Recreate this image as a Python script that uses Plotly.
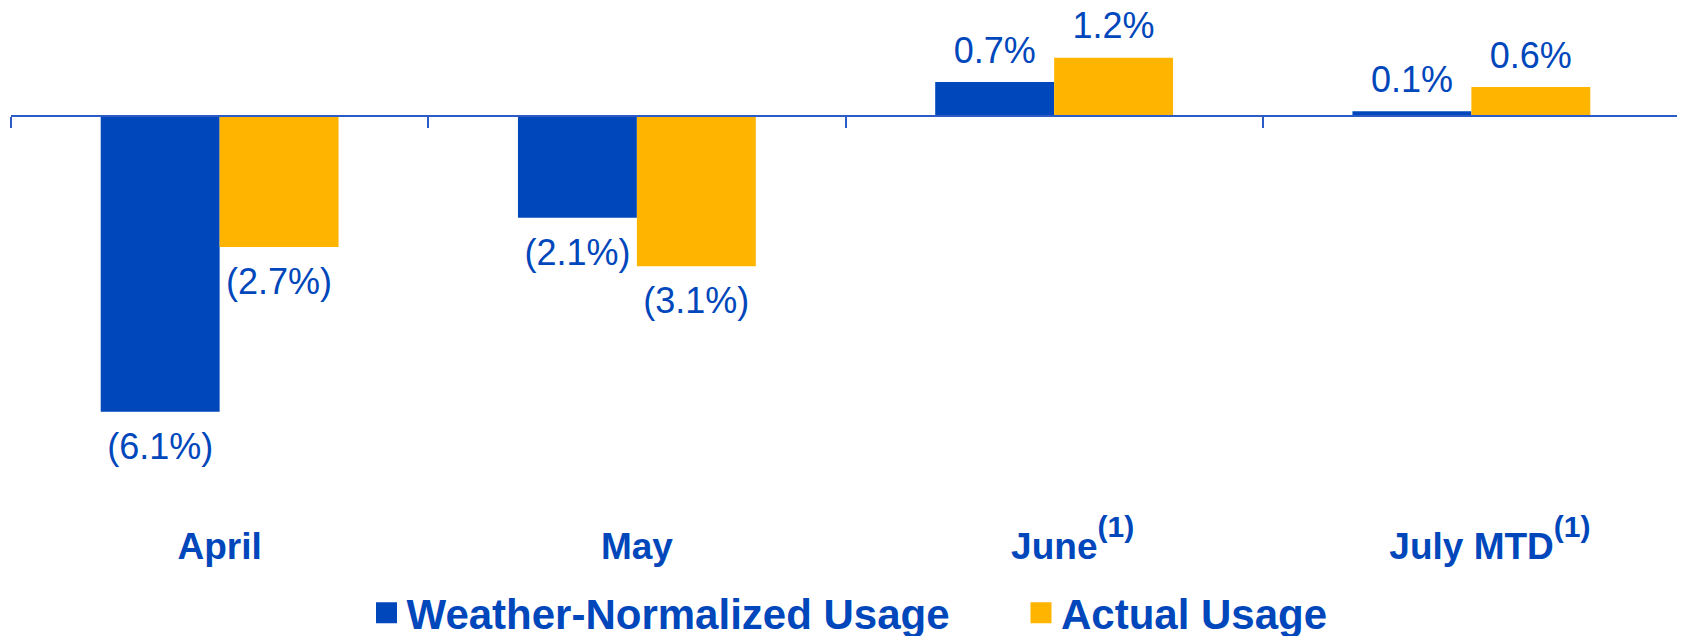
import plotly.graph_objects as go

# ---- data ----
categories = ["April", "May", "June", "July MTD"]
footnotes = ["", "", "(1)", "(1)"]
weather_normalized = [-6.1, -2.1, 0.7, 0.1]
actual_usage = [-2.7, -3.1, 1.2, 0.6]
series_names = ["Weather-Normalized Usage", "Actual Usage"]

# ---- style ----
BLUE = "#0047BB"
ORANGE = "#FFB500"
AXIS = "#2A5BC6"
FONT = "Liberation Sans, Arial, sans-serif"
GAP = 0.43
OFF = 8  # page body margin of the browser


def fmt(v):
    return f"({abs(v):.1f}%)" if v < 0 else f"{v:.1f}%"


def tick_label(cat, note):
    # keep the word itself centred under its group; footnote hangs to the right
    if not note:
        return cat
    return ("\u2002\u2002" + cat +
            f"<sup><span style='font-size:30px;baseline-shift:7px'>{note}</span></sup>")


fig = go.Figure()
series = [(series_names[0], weather_normalized, BLUE),
          (series_names[1], actual_usage, ORANGE)]
for name, vals, col in series:
    fig.add_trace(go.Bar(
        x=categories, y=vals, name=name,
        marker=dict(color=col, line=dict(width=0)),
        hoverinfo="skip", showlegend=False,
    ))
# value labels, grouped like the bars
for i, (name, vals, col) in enumerate(series):
    fig.add_trace(go.Scatter(
        x=categories, y=vals, mode="markers+text",
        text=[fmt(v) for v in vals],
        textposition=["bottom center" if v < 0 else "top center" for v in vals],
        textfont=dict(family=FONT, size=36, color=BLUE),
        marker=dict(size=[30 if v < 0 else 15 for v in vals], opacity=0),
        alignmentgroup="values", offsetgroup=f"s{i}",
        showlegend=False, hoverinfo="skip", cliponaxis=False,
    ))
# legend entries (square swatches)
for i, (name, vals, col) in enumerate(series):
    fig.add_trace(go.Scatter(
        x=[None], y=[None], mode="markers", name=name,
        marker=dict(symbol="square", size=16, color=col, line=dict(width=5, color=col)),
        alignmentgroup="legend", offsetgroup=f"l{i}",
        hoverinfo="skip",
    ))

W, H = 1685 - OFF, 636 - OFF
ml, mr, mt, mb = 3, 5, 2, 166
ph = H - mt - mb
plot_bottom = H - mb
yr = [-7.299, 2.186]
zero_pos = (0 - yr[0]) / (yr[1] - yr[0])

fig.update_layout(
    width=W, height=H,
    margin=dict(l=ml, r=mr, t=mt, b=mb, pad=0, autoexpand=False),
    plot_bgcolor="white", paper_bgcolor="white",
    barmode="group", bargap=GAP, bargroupgap=0,
    scattermode="group", scattergap=GAP,
    font=dict(family=FONT, color=BLUE),
    showlegend=True,
    legend=dict(
        orientation="h",
        x=(358.5 - ml) / (W - ml - mr), xanchor="left",
        y=-(605 - plot_bottom) / ph, yanchor="middle",
        font=dict(family=FONT, size=42, color=BLUE, weight="bold"),
        entrywidth=609.5, entrywidthmode="pixels",
        itemclick=False, itemdoubleclick=False,
        bgcolor="rgba(0,0,0,0)",
    ),
    xaxis=dict(
        type="category",
        categoryorder="array", categoryarray=categories,
        tickmode="array", tickvals=categories,
        ticktext=[tick_label(c, n) for c, n in zip(categories, footnotes)],
        anchor="free", position=zero_pos,
        showline=True, linecolor=AXIS, linewidth=2,
        ticks="outside", tickson="boundaries", ticklen=11, tickwidth=2, tickcolor=AXIS,
        showgrid=False, zeroline=False,
        tickfont=dict(family=FONT, size=37, color=BLUE, weight="bold"),
        ticklabelstandoff=398,
        automargin=False,
        fixedrange=True,
    ),
    yaxis=dict(
        range=yr, visible=False, showgrid=False, zeroline=False,
        fixedrange=True,
    ),
)

fig.write_html("out.html")
